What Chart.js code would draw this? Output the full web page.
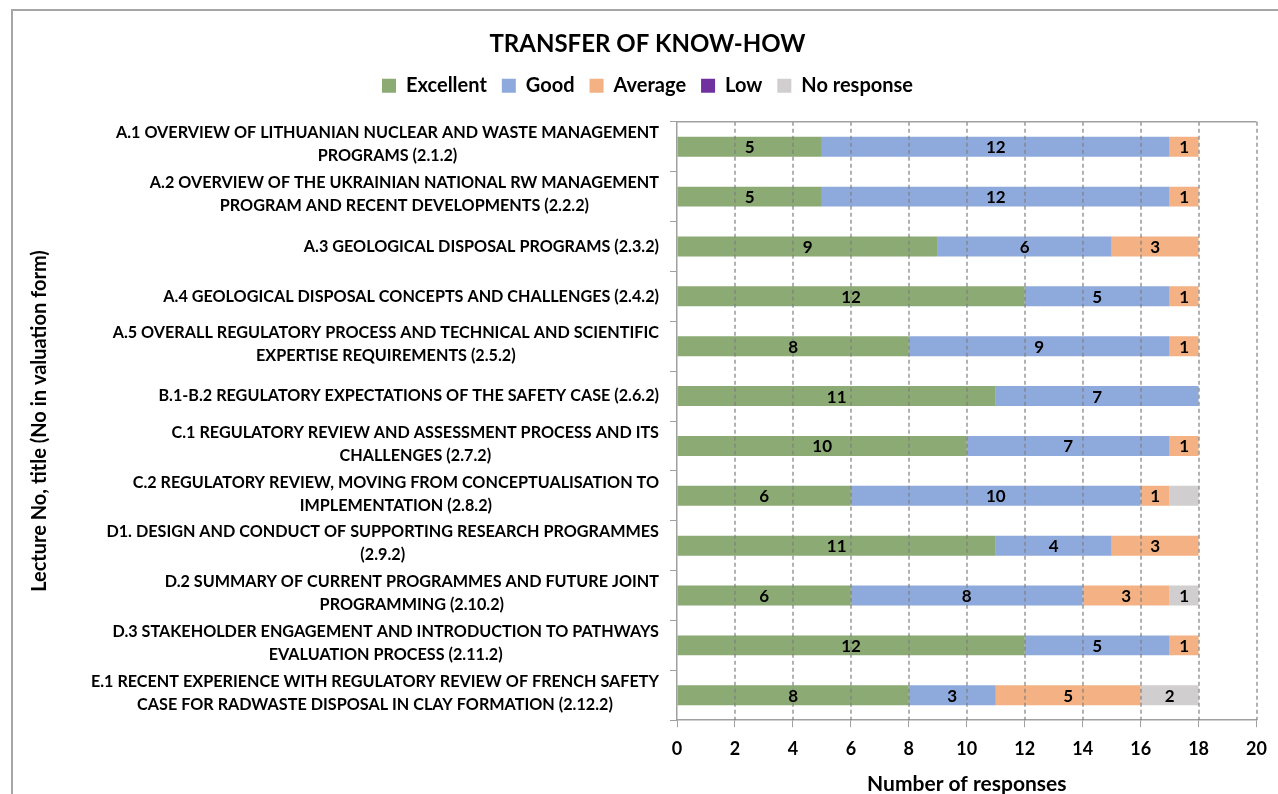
<!DOCTYPE html>
<html>
<head>
<meta charset="utf-8">
<script src="https://cdn.jsdelivr.net/npm/chart.js@4/dist/chart.umd.min.js"></script>
<style>
  html, body { margin: 0; padding: 0; background: #fff; overflow: hidden; }
  #frame {
    position: absolute; left: 11px; top: 9px; width: 1300px; height: 820px;
    border-left: 2px solid #a6a6a6; border-top: 2px solid #a6a6a6;
  }
  #wrap { position: absolute; left: 0; top: 0; width: 1278px; height: 797px; }
</style>
</head>
<body>
<div id="frame"></div>
<div id="wrap"><canvas id="chart"></canvas></div>
<script>
// lecture titles, split in lines like the original
const lectures = [
    ["A.1 OVERVIEW OF LITHUANIAN NUCLEAR AND WASTE MANAGEMENT", "PROGRAMS (2.1.2)"],
    ["A.2 OVERVIEW OF THE UKRAINIAN NATIONAL RW MANAGEMENT", "PROGRAM AND RECENT DEVELOPMENTS (2.2.2)"],
    ["A.3 GEOLOGICAL DISPOSAL PROGRAMS (2.3.2)"],
    ["A.4 GEOLOGICAL DISPOSAL CONCEPTS AND CHALLENGES (2.4.2)"],
    ["A.5 OVERALL REGULATORY PROCESS AND TECHNICAL AND SCIENTIFIC", "EXPERTISE REQUIREMENTS (2.5.2)"],
    ["B.1-B.2 REGULATORY EXPECTATIONS OF THE SAFETY CASE (2.6.2)"],
    ["C.1 REGULATORY REVIEW AND ASSESSMENT PROCESS AND ITS", "CHALLENGES (2.7.2)"],
    ["C.2 REGULATORY REVIEW, MOVING FROM CONCEPTUALISATION TO", "IMPLEMENTATION (2.8.2)"],
    ["D1. DESIGN AND CONDUCT OF SUPPORTING RESEARCH PROGRAMMES", "(2.9.2)"],
    ["D.2 SUMMARY OF CURRENT PROGRAMMES AND FUTURE JOINT", "PROGRAMMING (2.10.2)"],
    ["D.3 STAKEHOLDER ENGAGEMENT AND INTRODUCTION TO PATHWAYS", "EVALUATION PROCESS (2.11.2)"],
    ["E.1 RECENT EXPERIENCE WITH REGULATORY REVIEW OF FRENCH SAFETY", "CASE FOR RADWASTE DISPOSAL IN CLAY FORMATION (2.12.2)"],
];

const excellent  = [5, 5, 9, 12, 8, 11, 10, 6, 11, 6, 12, 8];
const good       = [12, 12, 6, 5, 9, 7, 7, 10, 4, 8, 5, 3];
const average    = [1, 1, 3, 1, 1, 0, 1, 1, 3, 3, 1, 5];
const low        = [0, 0, 0, 0, 0, 0, 0, 0, 0, 0, 0, 0];
const noResponse = [0, 0, 0, 0, 0, 0, 0, 1, 0, 1, 0, 2];

// labels the original leaves out: [dataset, index]
const hiddenLabels = [[4, 7]];

const xTicks = [0, 2, 4, 6, 8, 10, 12, 14, 16, 18, 20];

const FONT = "Lato, 'Open Sans', sans-serif";

// dashed vertical grid, drawn over the bars like in the excel original
const dashedGridPlugin = {
    id: "dashedGrid",
    afterDatasetsDraw(chart) {
        const x = chart.scales.x;
        const a = chart.chartArea;
        const ctx = chart.ctx;
        ctx.save();
        ctx.strokeStyle = "#7f7f7f";
        ctx.lineWidth = 1.2;
        ctx.setLineDash([4, 3]);
        for (const v of xTicks) {
            if (v === 0) continue;
            const px = Math.round(x.getPixelForValue(v));
            ctx.beginPath();
            ctx.moveTo(px, a.top);
            ctx.lineTo(px, a.bottom);
            ctx.stroke();
        }
        ctx.setLineDash([]);
        ctx.strokeStyle = "#a0a0a0";
        ctx.lineWidth = 1.5;
        ctx.beginPath();
        ctx.moveTo(a.left, a.top);
        ctx.lineTo(a.right, a.top);
        ctx.stroke();
        ctx.restore();
    },
};

const yLabelsPlugin = {
    id: "yLabels",
    afterDraw(chart) {
        const y = chart.scales.y;
        const ctx = chart.ctx;
        ctx.save();
        ctx.font = "bold 16.2px " + FONT;
        ctx.fillStyle = "#000";
        ctx.textAlign = "center";
        ctx.textBaseline = "middle";
        const right = y.right - 18;
        const lh = 23;
        lectures.forEach((lines, i) => {
            const cy = y.getPixelForValue(i) - (lines.length > 1 ? 2 : 0);
            const widest = Math.max(...lines.map(l => ctx.measureText(l).width));
            const cx = right - widest / 2;
            lines.forEach((l, k) => {
                ctx.fillText(l, cx, cy + (k - (lines.length - 1) / 2) * lh);
            });
        });
        ctx.restore();
    },
};

const valueLabelsPlugin = {
    id: "valueLabels",
    afterDraw(chart) {
        const ctx = chart.ctx;
        ctx.save();
        ctx.font = "bold 17px " + FONT;
        ctx.fillStyle = "#000";
        ctx.textAlign = "center";
        ctx.textBaseline = "middle";
        chart.data.datasets.forEach((ds, di) => {
            const meta = chart.getDatasetMeta(di);
            meta.data.forEach((bar, i) => {
                const v = ds.data[i];
                if (!v) return;
                if (hiddenLabels.some(h => h[0] === di && h[1] === i)) return;
                const p = bar.getProps(["x", "y", "base"], true);
                ctx.fillText(String(v), (p.x + p.base) / 2, p.y + 1);
            });
        });
        ctx.restore();
    },
};

function makeSet(label, data, color) {
    return {
        label,
        data,
        backgroundColor: color,
        borderWidth: 0,
        barPercentage: 0.5,
        categoryPercentage: 0.8,
    };
}

new Chart(document.getElementById("chart").getContext("2d"), {
    type: "bar",
    data: {
        labels: lectures,
        datasets: [
            makeSet("Excellent", excellent, "#8caa74"),
            makeSet("Good", good, "#8eaadc"),
            makeSet("Average", average, "#f4b183"),
            makeSet("Low", low, "#7030a0"),
            makeSet("No response", noResponse, "#d0cece"),
        ],
    },
    options: {
        indexAxis: "y",
        responsive: true,
        maintainAspectRatio: false,
        animation: false,
        layout: { padding: { top: 14, right: 15, bottom: 0, left: 32 } },
        plugins: {
            title: {
                display: true,
                text: "TRANSFER OF KNOW-HOW",
                color: "#000",
                font: { family: FONT, size: 24, weight: "bold" },
                padding: { top: 16, bottom: 2 },
            },
            // empty spacer between legend and plot
            subtitle: {
                display: true,
                text: " ",
                weight: 500,
                font: { size: 10 },
                padding: { top: 0, bottom: 4 },
            },
            legend: {
                position: "top",
                labels: {
                    color: "#000",
                    font: { family: FONT, size: 20, weight: "bold" },
                    boxWidth: 14,
                    boxHeight: 14,
                    padding: 15,
                },
            },
            tooltip: { enabled: false },
        },
        scales: {
            x: {
                stacked: true,
                min: 0,
                max: 20,
                afterBuildTicks: (s) => { s.ticks = xTicks.map(v => ({ value: v })); },
                ticks: {
                    color: "#000",
                    font: { family: FONT, size: 18, weight: "bold" },
                    padding: 11,
                },
                grid: {
                    drawOnChartArea: false,
                    tickLength: 7,
                    color: "#a0a0a0",
                },
                border: { display: true, color: "#a0a0a0", width: 1.5 },
                title: {
                    display: true,
                    text: "Number of responses",
                    color: "#000",
                    font: { family: FONT, size: 21, weight: "bold" },
                    padding: { top: 1, bottom: 0 },
                },
            },
            y: {
                stacked: true,
                ticks: { display: false },
                grid: {
                    drawOnChartArea: false,
                    offset: true,
                    tickLength: 7,
                    color: "#a0a0a0",
                },
                border: { display: true, color: "#a0a0a0", width: 1.5 },
                afterFit: (s) => { s.width = 645; },
                title: {
                    display: true,
                    text: "Lecture No, title (No in valuation form)",
                    color: "#000",
                    font: { family: FONT, size: 20, weight: "bold" },
                    padding: { top: -4, bottom: 4 },
                },
            },
        },
    },
    plugins: [dashedGridPlugin, yLabelsPlugin, valueLabelsPlugin],
});
</script>
</body>
</html>
